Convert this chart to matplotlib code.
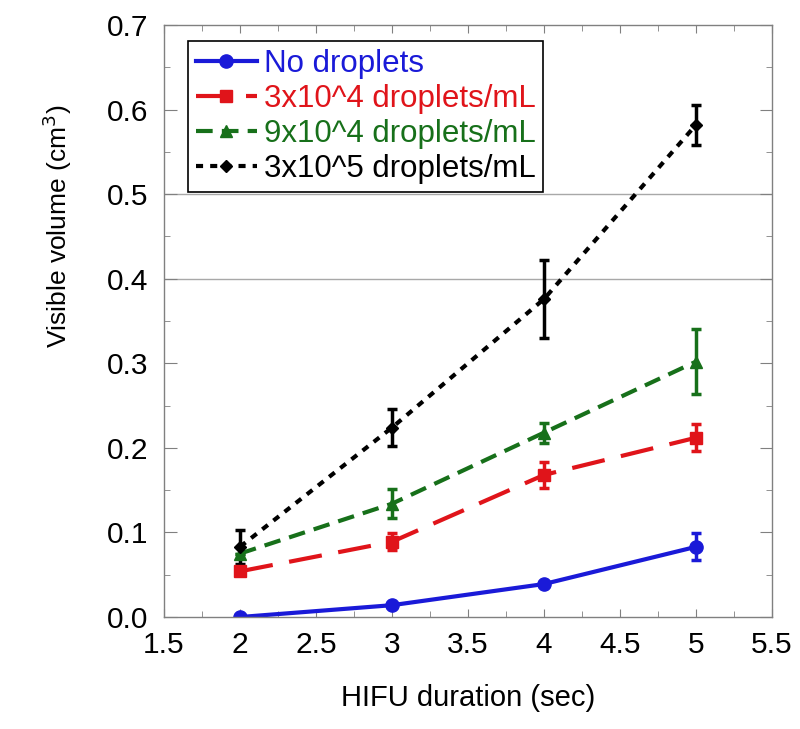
import matplotlib.pyplot as plt
from matplotlib.ticker import MultipleLocator

plt.rcParams['font.family'] = ['Liberation Sans', 'DejaVu Sans']

# HIFU duration (sec)
duration = [2, 3, 4, 5]

# Visible volume (cm^3) and error bars for each droplet concentration.
no_drop = [0.000, 0.014, 0.039, 0.083]
no_drop_err = [0.0, 0.0, 0.0, 0.016]
drop_3e4 = [0.054, 0.089, 0.168, 0.212]
drop_3e4_err = [0.0, 0.010, 0.015, 0.016]
drop_9e4 = [0.075, 0.134, 0.218, 0.302]
drop_9e4_err = [0.0, 0.017, 0.012, 0.038]
drop_3e5 = [0.083, 0.224, 0.376, 0.582]
drop_3e5_err = [0.020, 0.022, 0.046, 0.024]

labels = ['No droplets', '3x10^4 droplets/mL', '9x10^4 droplets/mL', '3x10^5 droplets/mL']
xtick_labels = ['1.5', '2', '2.5', '3', '3.5', '4', '4.5', '5', '5.5']

fig = plt.figure(figsize=(8, 7.29), dpi=100)
ax = fig.add_axes([0.205, 0.1536, 0.76, 0.8121])

# Light grid lines seen in the original.
for g in [0.4, 0.5]:
    ax.axhline(g, color='#a8a8a8', lw=1, zorder=0)

series = [
    (no_drop, no_drop_err, '#1a1ad8', 'o', None, 9.5),
    (drop_3e4, drop_3e4_err, '#e0141a', 's', (8, 4), 9),
    (drop_9e4, drop_9e4_err, '#17701a', '^', (4, 2.2), 8),
    (drop_3e5, drop_3e5_err, '#000000', 'D', (1.7, 1.7), 6.5),
]
handles = []
for (vals, errs, col, mk, dash, ms), lab in zip(series, labels):
    line, caps, bars = ax.errorbar(duration, vals, yerr=errs, color=col, marker=mk,
                                   markersize=ms, lw=3, elinewidth=2.5, capsize=3.5,
                                   capthick=2.5, label=lab)
    if dash is not None:
        line.set_dashes(dash)
    handles.append(line)

ax.set_xlim(1.5, 5.5)
ax.set_ylim(0.0, 0.7)
ax.set_xticks([1.5, 2, 2.5, 3, 3.5, 4, 4.5, 5, 5.5])
ax.set_xticklabels(xtick_labels)
ax.xaxis.set_minor_locator(MultipleLocator(0.25))
ax.yaxis.set_major_locator(MultipleLocator(0.1))
ax.yaxis.set_minor_locator(MultipleLocator(0.05))
ax.set_yticklabels(['%.1f' % v for v in ax.get_yticks()])
ax.tick_params(which='both', direction='in', top=True, right=True, color='#808080',
               labelsize=21.5)
ax.tick_params(axis='y', which='major', length=9, pad=11)
ax.tick_params(axis='x', which='major', length=6, pad=10)
ax.tick_params(which='minor', length=4)
for s in ax.spines.values():
    s.set_color('#808080')
    s.set_linewidth(1)

ax.set_xlabel('HIFU duration (sec)', fontsize=21, labelpad=18)
ax.set_ylabel('Visible volume (cm$^3$)', fontsize=19)
# The y label sits above the axis centre in the original.
ax.yaxis.set_label_coords(-0.148, 0.66)

leg = ax.legend(handles, labels, loc='upper left', bbox_to_anchor=(0.0395, 0.973),
                fontsize=22.5, labelcolor='linecolor', fancybox=False,
                edgecolor='black', framealpha=1, handlelength=1.95,
                handletextpad=0.22, borderpad=0.25, labelspacing=0.16,
                borderaxespad=0)
leg.get_frame().set_linewidth(1.2)

fig.savefig('out.png', dpi=100)
